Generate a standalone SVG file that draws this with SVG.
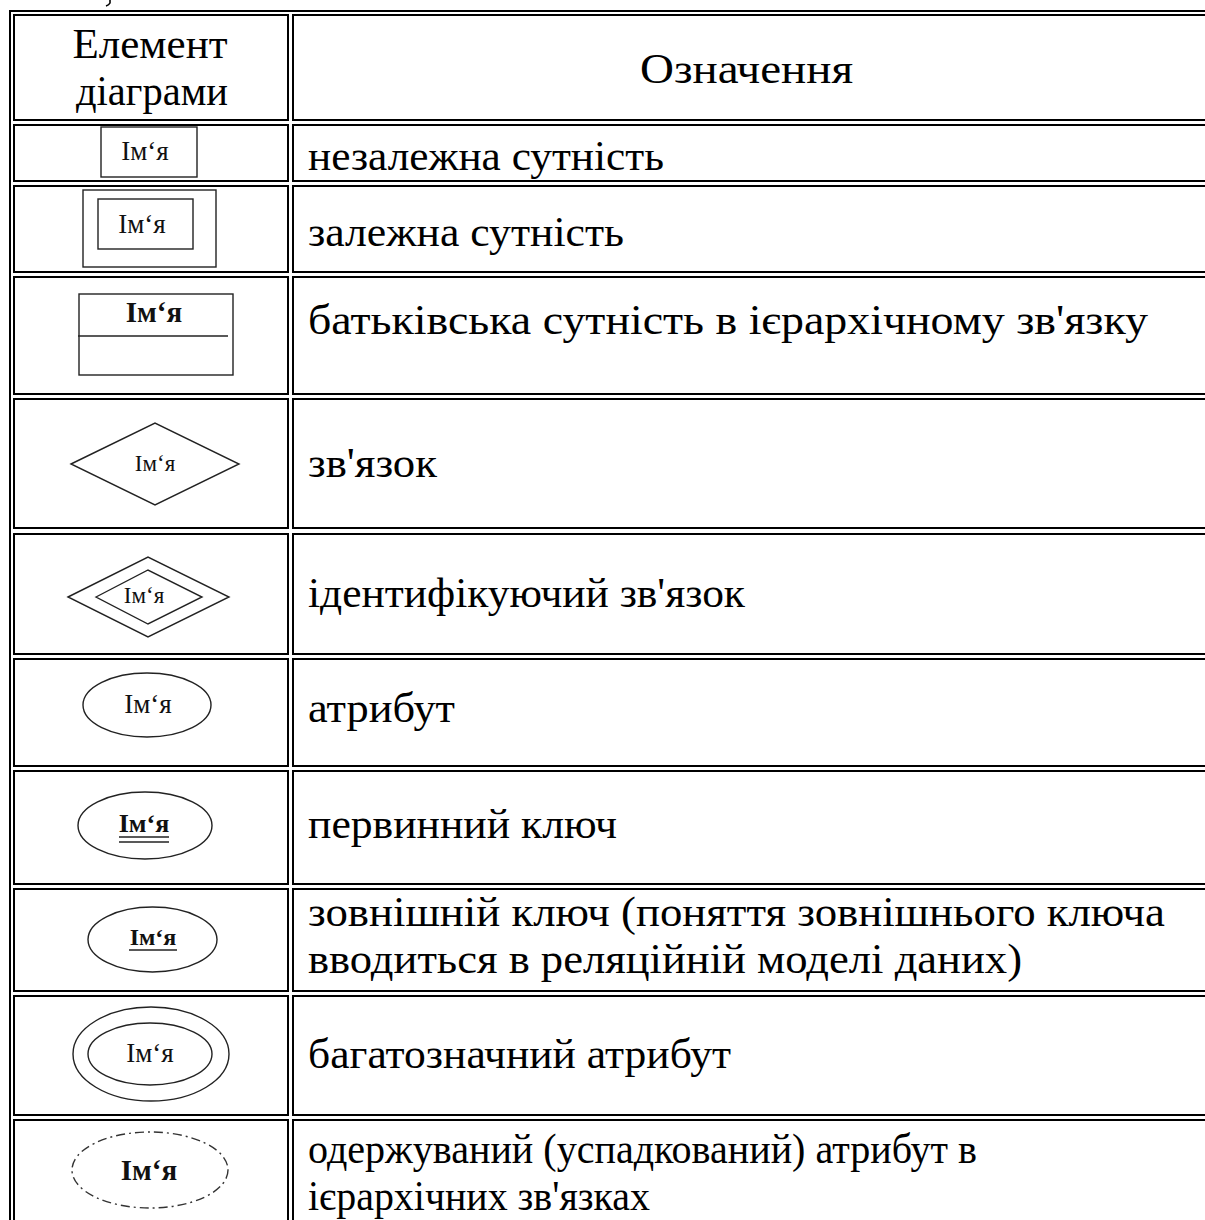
<svg xmlns="http://www.w3.org/2000/svg" width="1205" height="1220" viewBox="0 0 1205 1220">
  <style>
    .cell { fill: none; stroke: #000; stroke-width: 2; }
    .sym { fill: none; stroke: #222; stroke-width: 1.4; }
    .dash { fill: none; stroke: #333; stroke-width: 1.4; stroke-dasharray: 9 4 2 4; }
    .txt { font-family: "Liberation Serif", "Times New Roman", serif; font-size: 42px; fill: #000; }
    .hdr { text-anchor: middle; }
    .lbl { font-family: "Liberation Serif", "Times New Roman", serif; fill: #111; text-anchor: middle; }
  </style>
  <rect width="1205" height="1220" fill="#fff"/>

  <!-- tail of a glyph from the caption above the table -->
  <path d="M110,0 L110,3 Q109,5 106,6" fill="none" stroke="#000" stroke-width="1.6"/>

  <!-- table frame and cells -->
  <g id="table">
    <rect class="cell" x="10" y="11" width="1300" height="1300"/>
    <g id="col-left">
      <rect class="cell" x="14" y="15" width="274" height="105"/>
      <rect class="cell" x="14" y="125" width="274" height="56"/>
      <rect class="cell" x="14" y="186" width="274" height="86"/>
      <rect class="cell" x="14" y="277" width="274" height="117"/>
      <rect class="cell" x="14" y="399" width="274" height="129"/>
      <rect class="cell" x="14" y="534" width="274" height="120"/>
      <rect class="cell" x="14" y="659" width="274" height="107"/>
      <rect class="cell" x="14" y="771" width="274" height="113"/>
      <rect class="cell" x="14" y="889" width="274" height="102"/>
      <rect class="cell" x="14" y="996" width="274" height="119"/>
      <rect class="cell" x="14" y="1120" width="274" height="200"/>
    </g>
    <g id="col-right">
      <rect class="cell" x="293" y="15" width="1000" height="105"/>
      <rect class="cell" x="293" y="125" width="1000" height="56"/>
      <rect class="cell" x="293" y="186" width="1000" height="86"/>
      <rect class="cell" x="293" y="277" width="1000" height="117"/>
      <rect class="cell" x="293" y="399" width="1000" height="129"/>
      <rect class="cell" x="293" y="534" width="1000" height="120"/>
      <rect class="cell" x="293" y="659" width="1000" height="107"/>
      <rect class="cell" x="293" y="771" width="1000" height="113"/>
      <rect class="cell" x="293" y="889" width="1000" height="102"/>
      <rect class="cell" x="293" y="996" width="1000" height="119"/>
      <rect class="cell" x="293" y="1120" width="1000" height="200"/>
    </g>
  </g>

  <!-- header -->
  <g id="header">
    <text class="txt hdr" x="150" y="58" textLength="155" lengthAdjust="spacingAndGlyphs">Елемент</text>
    <text class="txt hdr" x="152" y="105" textLength="152" lengthAdjust="spacingAndGlyphs">діаграми</text>
    <text class="txt hdr" x="746.5" y="83" textLength="213" lengthAdjust="spacingAndGlyphs">Означення</text>
  </g>

  <!-- independent entity -->
  <g id="independent-entity">
    <rect class="sym" x="101" y="127" width="96" height="50"/>
    <text class="lbl" x="145" y="160" font-size="27">Ім‘я</text>
    <text class="txt" x="308" y="170" textLength="356" lengthAdjust="spacingAndGlyphs">незалежна сутність</text>
  </g>

  <!-- dependent entity -->
  <g id="dependent-entity">
    <rect class="sym" x="83" y="190" width="133" height="77"/>
    <rect class="sym" x="98" y="199" width="95" height="50"/>
    <text class="lbl" x="142" y="233" font-size="27">Ім‘я</text>
    <text class="txt" x="308" y="246" textLength="316" lengthAdjust="spacingAndGlyphs">залежна сутність</text>
  </g>

  <!-- parent entity in hierarchy -->
  <g id="parent-entity">
    <rect class="sym" x="79" y="294" width="154" height="81"/>
    <line class="sym" x1="78" y1="336" x2="228" y2="336"/>
    <text class="lbl" x="154" y="322" font-size="29" font-weight="bold">Ім‘я</text>
    <text class="txt" x="308" y="334" textLength="840" lengthAdjust="spacingAndGlyphs">батьківська сутність в ієрархічному зв'язку</text>
  </g>

  <!-- relationship -->
  <g id="relationship">
    <polygon class="sym" points="71,464 155,423 239,464 155,505"/>
    <text class="lbl" x="155" y="471" font-size="23">Ім‘я</text>
    <text class="txt" x="308" y="477" textLength="129" lengthAdjust="spacingAndGlyphs">зв'язок</text>
  </g>

  <!-- identifying relationship -->
  <g id="identifying-relationship">
    <polygon class="sym" points="68,597 148,557 229,597 148,637"/>
    <polygon class="sym" points="96,597 148,570 202,597 148,624"/>
    <text class="lbl" x="144" y="603" font-size="23">Ім‘я</text>
    <text class="txt" x="308" y="607" textLength="437" lengthAdjust="spacingAndGlyphs">ідентифікуючий зв'язок</text>
  </g>

  <!-- attribute -->
  <g id="attribute">
    <ellipse class="sym" cx="147" cy="705" rx="64" ry="32"/>
    <text class="lbl" x="148" y="713" font-size="27">Ім‘я</text>
    <text class="txt" x="308" y="722" textLength="147" lengthAdjust="spacingAndGlyphs">атрибут</text>
  </g>

  <!-- primary key -->
  <g id="primary-key">
    <ellipse class="sym" cx="145" cy="825.5" rx="67" ry="33.5"/>
    <text class="lbl" x="144" y="832" font-size="26" font-weight="bold">Ім‘я</text>
    <line class="sym" x1="119" y1="837" x2="169" y2="837"/>
    <line class="sym" x1="119" y1="842" x2="169" y2="842"/>
    <text class="txt" x="308" y="838" textLength="309" lengthAdjust="spacingAndGlyphs">первинний ключ</text>
  </g>

  <!-- foreign key -->
  <g id="foreign-key">
    <ellipse class="sym" cx="152.5" cy="939.5" rx="64.5" ry="32.5"/>
    <text class="lbl" x="153" y="945" font-size="24" font-weight="bold">Ім‘я</text>
    <line class="sym" x1="129" y1="950" x2="177" y2="950"/>
    <text class="txt" x="308" y="926" textLength="857" lengthAdjust="spacingAndGlyphs">зовнішній ключ (поняття зовнішнього ключа</text>
    <text class="txt" x="308" y="973" textLength="714" lengthAdjust="spacingAndGlyphs">вводиться в реляційній моделі даних)</text>
  </g>

  <!-- multivalued attribute -->
  <g id="multivalued-attribute">
    <ellipse class="sym" cx="151" cy="1054" rx="78" ry="47"/>
    <ellipse class="sym" cx="150" cy="1054" rx="62" ry="31"/>
    <text class="lbl" x="150" y="1062" font-size="27">Ім‘я</text>
    <text class="txt" x="308" y="1068" textLength="423" lengthAdjust="spacingAndGlyphs">багатозначний атрибут</text>
  </g>

  <!-- derived attribute -->
  <g id="derived-attribute">
    <ellipse class="dash" cx="150" cy="1170" rx="78" ry="38"/>
    <text class="lbl" x="149" y="1180" font-size="29" font-weight="bold">Ім‘я</text>
    <text class="txt" x="308" y="1163" textLength="669" lengthAdjust="spacingAndGlyphs">одержуваний (успадкований) атрибут в</text>
    <text class="txt" x="308" y="1210" textLength="342" lengthAdjust="spacingAndGlyphs">ієрархічних зв'язках</text>
  </g>
</svg>
